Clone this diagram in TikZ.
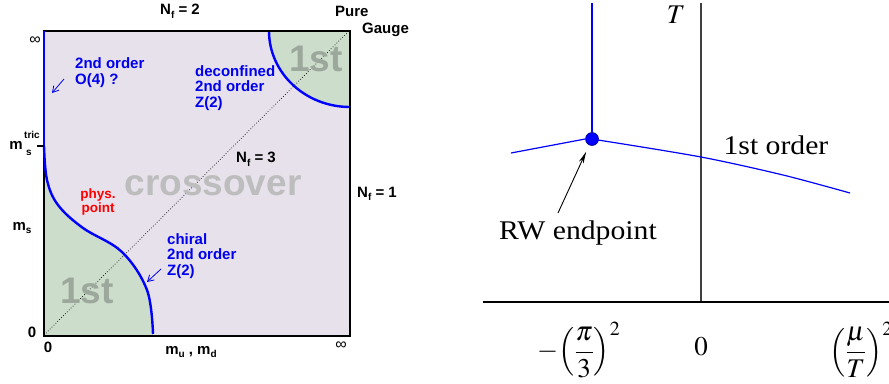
\documentclass[tikz,border=0pt]{standalone}
\usepackage{amsmath}
\usepackage{mathptmx}
\usepackage{fontspec}
\setmainfont{Liberation Serif}
\setsansfont{Liberation Sans}
\usetikzlibrary{arrows.meta}
\definecolor{lav}{HTML}{E6E1EB}
\definecolor{grn}{HTML}{CCDDCC}
\definecolor{lblue}{HTML}{0000EE}
\definecolor{gtext}{HTML}{BDBDBD}
\definecolor{gfirst}{HTML}{9CA89C}
\newcommand\lsub[1]{\raisebox{-0.45ex}{\fontsize{10}{10}\selectfont #1}}
\tikzset{
  sanslab/.style={font=\fontsize{15}{16}\selectfont\sffamily\bfseries, inner sep=0pt},
  bluelab/.style={font=\fontsize{15}{15.5}\selectfont\sffamily\bfseries, inner sep=0pt, text=lblue, align=left, anchor=west},
  bigtext/.style={font=\fontsize{37}{37}\selectfont\sffamily\bfseries, inner sep=0pt},
  phase/.style={blue, line width=2.4pt},
  thinphase/.style={blue, line width=1.2pt},
  serif/.style={font=\fontsize{27}{30}\selectfont, inner sep=0pt},
  inflab/.style={font=\fontsize{16}{16}\selectfont\sffamily, inner sep=0pt},
  barb/.style={lblue, line width=0.8pt, -{Straight Barb[length=6pt,width=7pt]}}
}
\begin{document}
\begin{tikzpicture}[x=1pt,y=-1pt]
\useasboundingbox (0,0) rectangle (889,383);
% ---------- left panel ----------
\fill[lav] (44,31) rectangle (350,336);
\fill[grn] (269,31) arc[start angle=180,end angle=90,x radius=81,y radius=76] -- (350,31) -- cycle;
\fill[grn] plot[smooth,tension=0.6] coordinates {(44,146)(47,180)(58,205)(83,228)(122,252)(147,290)(153,336)} -- (44,336) -- cycle;
\coordinate (dA) at (46,333);
\coordinate (dB) at (347,33);
\draw[dotted, line width=0.7pt] (dA) -- (dB);
\node[bigtext, text=gfirst] (first1) at (316,59) {1st};
\node[bigtext, text=gfirst] (first2) at (87,291) {1st};
\node[bigtext, text=gtext, text height=20pt, text depth=0pt] (cross) at (213,185) {crossover};
\draw[phase] (269,31) arc[start angle=180,end angle=90,x radius=81,y radius=76];
\draw[line width=2.2pt] (44,31) rectangle (350,336);
\draw[phase] plot[smooth,tension=0.6] coordinates {(44,146)(47,180)(58,205)(83,228)(122,252)(147,290)(153,334)};
\draw[phase] (44,31) -- (44,146);
\coordinate (tk1) at (37,146);
\coordinate (tk2) at (44,146);
\draw[line width=1.2pt] (tk1) -- (tk2);
% labels
\node[sanslab] (nf2) at (180,11) {N\lsub{f} = 2};
\node[sanslab, anchor=west] (pure) at (335,11) {Pure};
\node[sanslab, anchor=west] (gauge) at (362,30) {Gauge};
\node[inflab] (inf1) at (35,41) {∞};
\node[inflab] (inf2) at (341,346) {∞};
\node[bluelab] (o4) at (75,72.5) {2nd order\\O(4) ?};
\node[bluelab] (dec) at (195,88) {deconfined\\2nd order\\Z(2)};
\node[bluelab] (chi) at (167,256) {chiral\\2nd order\\Z(2)};
\node[font=\fontsize{13.5}{14}\selectfont\sffamily\bfseries, text=red, align=center, inner sep=0pt] (phys) at (98,202) {phys.\\point};
\node[sanslab] (nf3) at (256,159) {N\lsub{f} = 3};
\node[sanslab] (nf1) at (377,194) {N\lsub{f} = 1};
\node[sanslab] (ms) at (22,228) {m\lsub{s}};
\node[sanslab] (mstric) at (16,145) {m};
\node[font=\fontsize{10}{10}\selectfont\sffamily\bfseries, inner sep=0pt] (tric) at (32,135) {tric};
\node[font=\fontsize{10}{10}\selectfont\sffamily\bfseries, inner sep=0pt] (ssub) at (29,153) {s};
\node[sanslab] (zl) at (32,332) {0};
\node[sanslab] (zb) at (48,347) {0};
\node[sanslab] (mud) at (191,352) {m\lsub{u} , m\lsub{d}};
\coordinate (a1s) at (64,79);
\coordinate (a1e) at (52,93);
\draw[barb] (a1s) -- (a1e);
\coordinate (a2s) at (161,269);
\coordinate (a2e) at (147,282);
\draw[barb] (a2s) -- (a2e);
% ---------- right panel ----------
\coordinate (vtop) at (701,3);
\coordinate (vbot) at (701,302);
\coordinate (hl) at (483,302);
\coordinate (hr) at (889,302);
\draw[line width=1.2pt, black!75] (vtop) -- (vbot);
\draw[line width=1.2pt] (hl) -- (hr);
\node[circle, fill=blue, draw=blue!55!black, line width=0.6pt, minimum size=13pt, inner sep=0pt] (rw) at (592,139) {};
\coordinate (btop) at (592,3);
\coordinate (bleft) at (511,153);
\draw[thinphase] (btop) -- (rw.north);
\draw[thinphase] (bleft) -- (rw.west);
\draw[thinphase] plot[smooth,tension=0.5] coordinates {(598,140)(701,157)(783,175)(850,193)};
\node[serif] (T) at (676,15) {$T$};
\node[serif] (fo) at (776,145) {\scalebox{1.1}[1]{1st order}};
\node[serif] (rwl) at (578,233) {\scalebox{1.1}[1]{RW endpoint}};
\coordinate (rwtail) at (558,213);
\draw[line width=0.9pt, -{Stealth[length=12pt,width=5pt]}, shorten >=14pt] (rwtail) -- (rw.center);
\node[serif, anchor=west] (pi3) at (537,350) {$-\Bigl(\dfrac{\pi}{3}\Bigr)^{2}$};
\node[serif] (zero) at (701,347) {$0$};
\node[serif, anchor=west] (muT) at (829,350) {$\Bigl(\dfrac{\mu}{T}\Bigr)^{2}$};
\end{tikzpicture}
\end{document}
